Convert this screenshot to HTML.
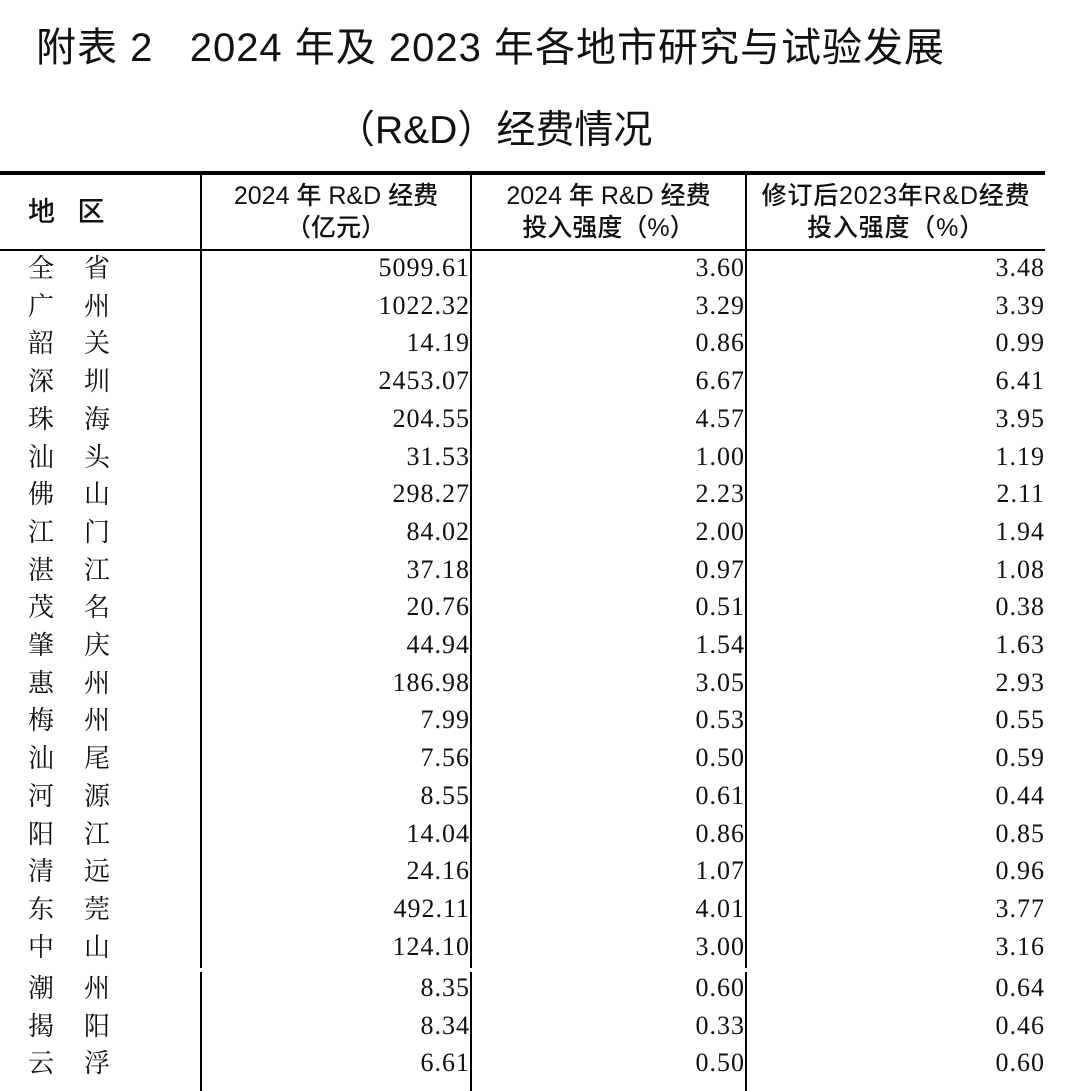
<!DOCTYPE html>
<html><head><meta charset="utf-8"><style>
body{margin:0;width:1075px;height:1091px;background:#fff;position:relative;overflow:hidden;color:#111}
.t{position:absolute;font-family:"Liberation Sans","Noto Sans CJK SC",sans-serif;font-size:40px;letter-spacing:1px;white-space:nowrap;line-height:1}
.h{position:absolute;font-family:"Liberation Sans","Noto Sans CJK SC",sans-serif;font-size:25px;text-align:center;line-height:32px;white-space:nowrap;font-weight:500}
.n{position:absolute;font-family:"Noto Serif CJK SC",serif;font-size:26px;line-height:1;white-space:nowrap}
.v{position:absolute;font-family:"Liberation Serif",serif;font-size:26px;letter-spacing:1px;line-height:1;text-align:right;white-space:nowrap}
.line{position:absolute;background:#000}
</style></head><body>
<div class="t" style="left:36px;top:28px">附表 2&nbsp;&nbsp;&nbsp;2024 年及 2023 年各地市研究与试验发展</div>
<div class="t" style="left:336px;top:111px;letter-spacing:0;font-size:39px">（R&amp;D）经费情况</div>
<div class="line" style="left:0;top:171px;width:1045px;height:4px"></div>
<div class="line" style="left:0;top:249px;width:1045px;height:2px"></div>
<div class="line" style="left:200px;top:175px;width:2px;height:793px"></div>
<div class="line" style="left:470px;top:175px;width:2px;height:793px"></div>
<div class="line" style="left:745px;top:175px;width:2px;height:793px"></div>
<div class="line" style="left:200px;top:972px;width:2px;height:119px"></div>
<div class="line" style="left:470px;top:972px;width:2px;height:119px"></div>
<div class="line" style="left:745px;top:972px;width:2px;height:119px"></div>
<div class="h" style="left:28px;top:196px;font-size:27px">地&nbsp;&nbsp;&nbsp;区</div>
<div class="h" style="left:202px;width:268px;top:180px">2024 年 R&amp;D 经费<br>（亿元）</div>
<div class="h" style="left:472px;width:273px;top:180px">2024 年 R&amp;D 经费<br>投入强度（%）</div>
<div class="h" style="left:747px;width:298px;top:180px;letter-spacing:0.8px">修订后2023年R&amp;D经费<br>投入强度（%）</div>
<div id="rows"></div>
<script>
var d=[["全","省","5099.61","3.60","3.48"],["广","州","1022.32","3.29","3.39"],["韶","关","14.19","0.86","0.99"],["深","圳","2453.07","6.67","6.41"],["珠","海","204.55","4.57","3.95"],["汕","头","31.53","1.00","1.19"],["佛","山","298.27","2.23","2.11"],["江","门","84.02","2.00","1.94"],["湛","江","37.18","0.97","1.08"],["茂","名","20.76","0.51","0.38"],["肇","庆","44.94","1.54","1.63"],["惠","州","186.98","3.05","2.93"],["梅","州","7.99","0.53","0.55"],["汕","尾","7.56","0.50","0.59"],["河","源","8.55","0.61","0.44"],["阳","江","14.04","0.86","0.85"],["清","远","24.16","1.07","0.96"],["东","莞","492.11","4.01","3.77"],["中","山","124.10","3.00","3.16"],["潮","州","8.35","0.60","0.64"],["揭","阳","8.34","0.33","0.46"],["云","浮","6.61","0.50","0.60"]];
var h="";
d.forEach(function(r,i){
 var y=i<19?268+i*37.7:988+(i-19)*37.5;
 var t=y-13;
 h+='<div class="n" style="left:28px;top:'+(t-1)+'px">'+r[0]+'</div>';
 h+='<div class="n" style="left:84px;top:'+(t-1)+'px">'+r[1]+'</div>';
 h+='<div class="v" style="right:'+(1075-470)+'px;top:'+t+'px">'+r[2]+'</div>';
 h+='<div class="v" style="right:'+(1075-745)+'px;top:'+t+'px">'+r[3]+'</div>';
 h+='<div class="v" style="right:'+(1075-1045)+'px;top:'+t+'px">'+r[4]+'</div>';
});
document.getElementById("rows").innerHTML=h;
</script>
</body></html>
